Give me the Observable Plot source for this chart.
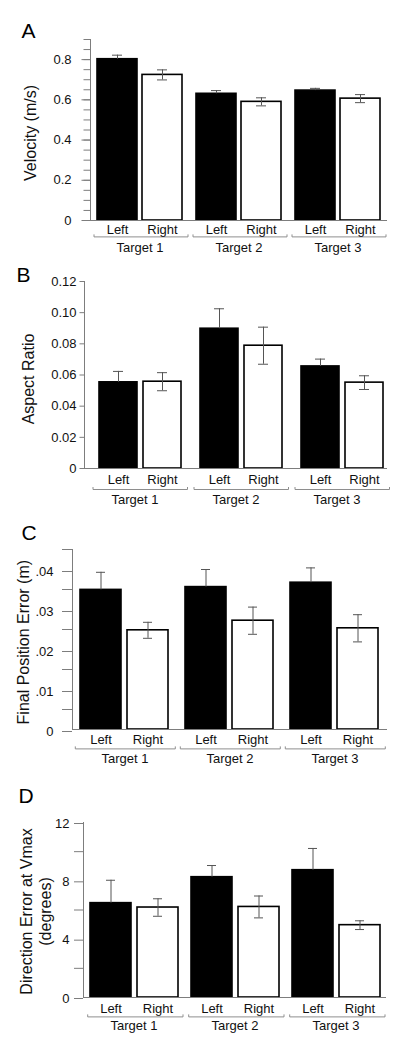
<!DOCTYPE html>
<html>
<head>
<meta charset="utf-8">
<script src="https://cdn.jsdelivr.net/npm/d3@7"></script>
<script src="https://cdn.jsdelivr.net/npm/@observablehq/plot@0.6"></script>
<style>
  html, body { margin: 0; padding: 0; background: #fff; }
  #root { position: relative; width: 401px; height: 1046px; background: #fff; overflow: hidden; }
  #root svg { position: absolute; left: 0; }
</style>
</head>
<body>
<div id="root"></div>
<script>
// ---------- data ----------
const targets = ["Target 1", "Target 2", "Target 3"];
const sides = ["Left", "Right"];

// A: Velocity (m/s)
const velocityLeft = [0.802, 0.630, 0.646];
const velocityLeftErr = [0.020, 0.016, 0.011];
const velocityRight = [0.724, 0.590, 0.606];
const velocityRightErr = [0.025, 0.020, 0.020];
const velocityMajorTicks = [0, 0.2, 0.4, 0.6, 0.8];
const velocityMajorLabels = ["0", "0.2", "0.4", "0.6", "0.8"];
const velocityMinorTicks = [0, 0.05, 0.1, 0.15, 0.2, 0.25, 0.3, 0.35, 0.4, 0.45, 0.5, 0.55, 0.6, 0.65, 0.7, 0.75, 0.8, 0.85, 0.9];

// B: Aspect Ratio
const aspectLeft = [0.0553, 0.0897, 0.0655];
const aspectLeftErr = [0.0070, 0.0128, 0.0047];
const aspectRight = [0.0557, 0.0788, 0.0551];
const aspectRightErr = [0.0058, 0.0119, 0.0044];
const aspectMajorTicks = [0, 0.02, 0.04, 0.06, 0.08, 0.10, 0.12];
const aspectMajorLabels = ["0", "0.02", "0.04", "0.06", "0.08", "0.10", "0.12"];
const aspectMinorTicks = [];

// C: Final Position Error (m)
const positionLeft = [0.0349, 0.0356, 0.0367];
const positionLeftErr = [0.0044, 0.0044, 0.0037];
const positionRight = [0.0248, 0.0272, 0.0253];
const positionRightErr = [0.0020, 0.0034, 0.0034];
const positionMajorTicks = [0, 0.01, 0.02, 0.03, 0.04];
const positionMajorLabels = ["0", ".01", ".02", ".03", ".04"];
const positionMinorTicks = [0.005, 0.015, 0.025, 0.035, 0.045];

// D: Direction Error at Vmax (degrees)
const directionLeft = [6.47, 8.25, 8.73];
const directionLeftErr = [1.57, 0.80, 1.49];
const directionRight = [6.17, 6.21, 4.96];
const directionRightErr = [0.60, 0.75, 0.30];
const directionMajorTicks = [0, 4, 8, 12];
const directionMajorLabels = ["0", "4", "8", "12"];
const directionMinorTicks = [2, 6, 10];

// ---------- styling / layout ----------
const FONT = '"Liberation Sans", Arial, Helvetica, sans-serif';
const AXIS = "#7d7d7d";
const BRACKET = "#8e8e8e";
const ERR = "#555555";

function rowsOf(L, Le, R, Re) {
  return targets.flatMap((t, i) => [
    {target: t, side: "Left", value: L[i], err: Le[i]},
    {target: t, side: "Right", value: R[i], err: Re[i]}
  ]);
}

const panels = [
  {
    letter: "A", label: "Velocity (m/s)",
    rows: rowsOf(velocityLeft, velocityLeftErr, velocityRight, velocityRightErr),
    yMax: 0.9, major: velocityMajorTicks, majorLabels: velocityMajorLabels, minor: velocityMinorTicks,
    top: 0, height: 260, mL: 89, mR: 14, mT: 39, mB: 40,
    xPadIn: 0.11, xPadOut: 0.1465, xAlign: 0.53,
    tickMajor: 8.5, tickMinor: 6.5, tickPad: 10.5, labelDy: 0,
    cap: 15, bracketIn: [4, 1],
    sideDy: 9.7, bracketDy: 16.4, targetDy: 27.4,
    yl: {dx: -61, dy: 3}, lt: {dx: -69, dy: -8.5}
  },
  {
    letter: "B", label: "Aspect Ratio",
    rows: rowsOf(aspectLeft, aspectLeftErr, aspectRight, aspectRightErr),
    yMax: 0.12, major: aspectMajorTicks, majorLabels: aspectMajorLabels, minor: aspectMinorTicks,
    top: 260, height: 260, mL: 83, mR: 14, mT: 21, mB: 52,
    xPadIn: 0.134, xPadOut: 0.2, xAlign: 0.8,
    tickMajor: 4.5, tickMinor: 4.5, tickPad: 3.5, labelDy: 0,
    cap: 14, bracketIn: [9, -2.5],
    sideDy: 11.7, bracketDy: 21, targetDy: 31.7,
    yl: {dx: -56.3, dy: 4}, lt: {dx: -68, dy: -6.5}
  },
  {
    letter: "C", label: "Final Position Error (m)",
    rows: rowsOf(positionLeft, positionLeftErr, positionRight, positionRightErr),
    yMax: 0.045, major: positionMajorTicks, majorLabels: positionMajorLabels, minor: positionMinorTicks,
    top: 520, height: 260, mL: 71, mR: 13, mT: 29, mB: 51,
    xPadIn: 0.1255, xPadOut: 0.168, xAlign: 0.5,
    tickMajor: 10, tickMinor: 10, tickPad: 9, labelDy: 2,
    cap: 16, bracketIn: [3.3, 1.7],
    sideDy: 10.7, bracketDy: 19.4, targetDy: 29,
    yl: {dx: -49.3, dy: 2.7}, lt: {dx: -51, dy: -16.5}
  },
  {
    letter: "D", label: "Direction Error at Vmax\n(degrees)",
    rows: rowsOf(directionLeft, directionLeftErr, directionRight, directionRightErr),
    yMax: 12, major: directionMajorTicks, majorLabels: directionMajorLabels, minor: directionMinorTicks,
    top: 780, height: 266, mL: 82, mR: 14, mT: 42, mB: 49,
    xPadIn: 0.126, xPadOut: 0.133, xAlign: 0.57,
    tickMajor: 9, tickMinor: 9, tickPad: 5, labelDy: 1,
    cap: 16, bracketIn: [4.7, 1],
    sideDy: 11, bracketDy: 19.4, targetDy: 28.4,
    yl: {dx: -48, dy: 1.5}, lt: {dx: -65, dy: -26.5}
  }
];

const root = document.getElementById("root");

for (const p of panels) {
  const first = () => targets[0];
  const labelOf = new Map(p.major.map((v, i) => [v, p.majorLabels[i]]));
  const marks = [
    Plot.frame({anchor: "left", facetAnchor: "left", stroke: AXIS}),
    p.minor.length ? Plot.axisY(p.minor, {anchor: "left", tickSize: p.tickMinor, tickFormat: () => "", stroke: AXIS, label: null}) : null,
    Plot.axisY(p.major, {anchor: "left", tickSize: p.tickMajor, tickPadding: p.tickPad, tickFormat: d => labelOf.get(d),
      stroke: AXIS, fill: "#111", fontSize: 13, dy: p.labelDy, label: null}),
    Plot.barY(p.rows, {fx: "target", x: "side", y: "value", fill: "side", stroke: "#000", strokeWidth: 1.6}),
    Plot.ruleX(p.rows, {fx: "target", x: "side",
      y1: d => d.side === "Left" ? d.value : d.value - d.err, y2: d => d.value + d.err, stroke: ERR, strokeWidth: 1}),
    Plot.tickY(p.rows, {fx: "target", x: "side", y: d => d.value + d.err, stroke: ERR, strokeWidth: 1,
      insetLeft: p.cap, insetRight: p.cap}),
    Plot.tickY(p.rows.filter(d => d.side === "Right"), {fx: "target", x: "side", y: d => d.value - d.err,
      stroke: ERR, strokeWidth: 1, insetLeft: p.cap, insetRight: p.cap}),
    Plot.ruleY([0], {stroke: AXIS, strokeWidth: 1}),
    Plot.ruleY([0], {dy: p.bracketDy, insetLeft: p.bracketIn[0], insetRight: p.bracketIn[1],
      stroke: BRACKET, strokeWidth: 1, ariaDescription: "bracket"}),
    Plot.text(p.rows, {fx: "target", x: "side", text: "side", frameAnchor: "bottom", dy: p.sideDy,
      lineAnchor: "middle", fontSize: 13, fill: "#111"}),
    Plot.text(targets, {fx: d => d, text: d => d, frameAnchor: "bottom", dy: p.targetDy,
      lineAnchor: "middle", fontSize: 13, fill: "#111"}),
    Plot.text([p.label], {fx: first, text: d => d, frameAnchor: "left", rotate: -90, dx: p.yl.dx, dy: p.yl.dy,
      lineAnchor: "middle", textAnchor: "middle", fontSize: 16, lineHeight: 1.2, fill: "#111"}),
    Plot.text([p.letter], {fx: first, text: d => d, frameAnchor: "top-left", dx: p.lt.dx, dy: p.lt.dy,
      lineAnchor: "middle", textAnchor: "start", fontSize: 21, fill: "#000"})
  ].filter(Boolean);

  const svg = Plot.plot({
    width: 401,
    height: p.height,
    marginLeft: p.mL, marginRight: p.mR, marginTop: p.mT, marginBottom: p.mB,
    style: {fontFamily: FONT, fontSize: "13px", color: "#111", background: "transparent", overflow: "visible"},
    fx: {domain: targets, padding: 0, axis: null, label: null},
    x: {domain: sides, paddingInner: p.xPadIn, paddingOuter: p.xPadOut, align: p.xAlign, axis: null, label: null},
    y: {domain: [0, p.yMax], label: null},
    color: {domain: sides, range: ["#000000", "#ffffff"]},
    marks
  });
  svg.style.top = p.top + "px";
  root.appendChild(svg);

  // small upturned ends on the group brackets, placed at the ends of Plot's own bracket rules
  d3.select(svg).selectAll('g[aria-description="bracket"] line').each(function () {
    const l = d3.select(this);
    const parent = d3.select(this.parentNode);
    const x1 = +l.attr("x1"), x2 = +l.attr("x2"), y = +l.attr("y1");
    for (const x of [x1, x2]) {
      parent.append("line").attr("x1", x).attr("x2", x).attr("y1", y).attr("y2", y - 2.5);
    }
  });
}
</script>
</body>
</html>
